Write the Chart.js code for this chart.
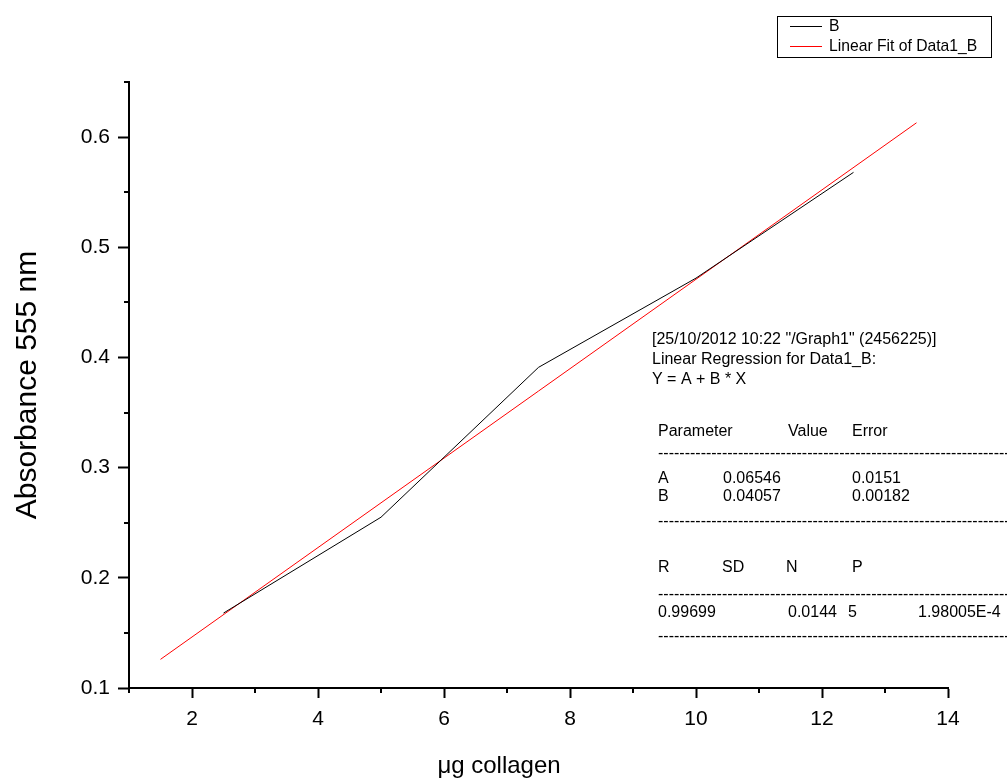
<!DOCTYPE html>
<html>
<head>
<meta charset="utf-8">
<script src="https://cdn.jsdelivr.net/npm/chart.js@4.4.0/dist/chart.umd.min.js"></script>
<style>
  html, body { margin: 0; padding: 0; background: #fff; }
  #wrap { width: 1007px; height: 781px; }
</style>
</head>
<body>
<div id="wrap"><canvas id="chart" width="1007" height="781"></canvas></div>
<script>
// data
const dataX = [2.5, 5, 7.5, 10, 12.5];
const dataY = [0.168, 0.255, 0.391, 0.472, 0.568];
const fitX = [1.5, 13.5];
const fitY = [0.126, 0.613];

const xTicks = [2, 4, 6, 8, 10, 12, 14];
const xMinor = [1, 3, 5, 7, 9, 11, 13];
const yTicks = [0.1, 0.2, 0.3, 0.4, 0.5, 0.6];
const yMinor = [0.15, 0.25, 0.35, 0.45, 0.55, 0.65];

const xTitle = 'μg collagen';
const yTitle = 'Absorbance 555 nm';

// regression report text
const regHeader = ['[25/10/2012 10:22 "/Graph1" (2456225)]', 'Linear Regression for Data1_B:', 'Y = A + B * X'];
const paramCols = ['Parameter', 'Value', 'Error'];
const paramRows = [['A', '0.06546', '0.0151'], ['B', '0.04057', '0.00182']];
const statCols = ['R', 'SD', 'N', 'P'];
const statRow = ['0.99699', '0.0144', '5', '1.98005E-4'];

const FONT = '"Liberation Sans", Arial, sans-serif';

// minor ticks (Chart.js has no minor ticks)
const minorTicks = {
  id: 'minorTicks',
  afterDraw(chart) {
    const ctx = chart.ctx;
    const xs = chart.scales.x, ys = chart.scales.y;
    ctx.save();
    ctx.strokeStyle = '#000';
    ctx.lineWidth = 2;
    ctx.beginPath();
    xMinor.forEach(v => {
      const px = Math.round(xs.getPixelForValue(v));
      ctx.moveTo(px, xs.top);
      ctx.lineTo(px, xs.top + 5);
    });
    yMinor.forEach(v => {
      const py = Math.round(ys.getPixelForValue(v));
      ctx.moveTo(ys.right - 5, py);
      ctx.lineTo(ys.right, py);
    });
    ctx.stroke();
    ctx.restore();
  }
};

// axis titles placed like the original (x title is not centred on the plot)
const axisTitles = {
  id: 'axisTitles',
  afterDraw(chart) {
    const ctx = chart.ctx;
    ctx.save();
    ctx.fillStyle = '#000';
    ctx.textAlign = 'center';
    ctx.textBaseline = 'middle';
    ctx.font = '24px ' + FONT;
    ctx.fillText(xTitle, 499, 766);
    ctx.translate(28, (chart.chartArea.top + chart.chartArea.bottom) / 2);
    ctx.rotate(-Math.PI / 2);
    ctx.font = '30px ' + FONT;
    ctx.fillText(yTitle, 0, 0);
    ctx.restore();
  }
};

// boxed legend in the top right corner
const boxLegend = {
  id: 'boxLegend',
  afterDraw(chart) {
    const ctx = chart.ctx;
    const x0 = 777, y0 = 16, w = 214, h = 41;
    ctx.save();
    ctx.lineWidth = 1;
    ctx.strokeStyle = '#000';
    ctx.strokeRect(x0 + 0.5, y0 + 0.5, w, h);
    ctx.font = '15.7px ' + FONT;
    ctx.textBaseline = 'middle';
    chart.data.datasets.forEach((ds, i) => {
      const y = y0 + 10 + i * 20;
      ctx.fillStyle = ds.borderColor;
      ctx.fillRect(x0 + 13, y, 32, 1);
      ctx.fillStyle = '#000';
      ctx.fillText(ds.label, x0 + 52, y + 1);
    });
    ctx.restore();
  }
};

// regression report block
const regReport = {
  id: 'regReport',
  afterDraw(chart) {
    const ctx = chart.ctx;
    const left = 658;
    const dashes = '-'.repeat(120);
    ctx.save();
    ctx.fillStyle = '#000';
    ctx.font = '16px ' + FONT;
    ctx.textBaseline = 'middle';
    regHeader.forEach((t, i) => ctx.fillText(t, left - 6, 340 + i * 20));
    const pCols = [left, 788, 852];
    paramCols.forEach((t, i) => ctx.fillText(t, pCols[i], 432));
    ctx.fillText(dashes, left, 454);
    const rCols = [left, 723, 852];
    paramRows.forEach((row, j) => row.forEach((t, i) => ctx.fillText(t, rCols[i], 479 + j * 18)));
    ctx.fillText(dashes, left, 522);
    const sCols = [left, 722, 786, 852];
    statCols.forEach((t, i) => ctx.fillText(t, sCols[i], 568));
    ctx.fillText(dashes, left, 595);
    const vCols = [left, 788, 848, 918];
    statRow.forEach((t, i) => ctx.fillText(t, vCols[i], 613));
    ctx.fillText(dashes, left, 637);
    ctx.restore();
  }
};

const ctx = document.getElementById('chart');
new Chart(ctx, {
  type: 'scatter',
  data: {
    datasets: [
      {
        label: 'B',
        data: dataX.map((x, i) => ({ x: x, y: dataY[i] })),
        showLine: true,
        borderColor: '#000000',
        borderWidth: 1,
        pointRadius: 0,
        tension: 0
      },
      {
        label: 'Linear Fit of Data1_B',
        data: fitX.map((x, i) => ({ x: x, y: fitY[i] })),
        showLine: true,
        borderColor: '#ff0000',
        borderWidth: 1,
        pointRadius: 0,
        tension: 0
      }
    ]
  },
  options: {
    responsive: false,
    animation: false,
    devicePixelRatio: 1,
    layout: { padding: { top: 82, right: 59, left: 0, bottom: 0 } },
    plugins: {
      legend: { display: false },
      tooltip: { enabled: false }
    },
    scales: {
      x: {
        type: 'linear',
        min: 1,
        max: 14,
        afterBuildTicks: s => { s.ticks = xTicks.map(v => ({ value: v })); },
        afterFit: s => { s.height = 93; },
        border: { color: '#000', width: 2 },
        grid: { drawOnChartArea: false, tickLength: 10, tickWidth: 2, tickColor: '#000' },
        ticks: { color: '#000', font: { family: FONT, size: 21 }, padding: 9, maxRotation: 0 }
      },
      y: {
        type: 'linear',
        min: 0.1,
        max: 0.65,
        afterBuildTicks: s => { s.ticks = yTicks.map(v => ({ value: v })); },
        afterFit: s => { s.width = 129; },
        border: { color: '#000', width: 2 },
        grid: { drawOnChartArea: false, tickLength: 11, tickWidth: 2, tickColor: '#000' },
        ticks: { color: '#000', font: { family: FONT, size: 21 }, padding: 8, callback: v => v.toFixed(1) }
      }
    }
  },
  plugins: [minorTicks, axisTitles, boxLegend, regReport]
});
</script>
</body>
</html>
